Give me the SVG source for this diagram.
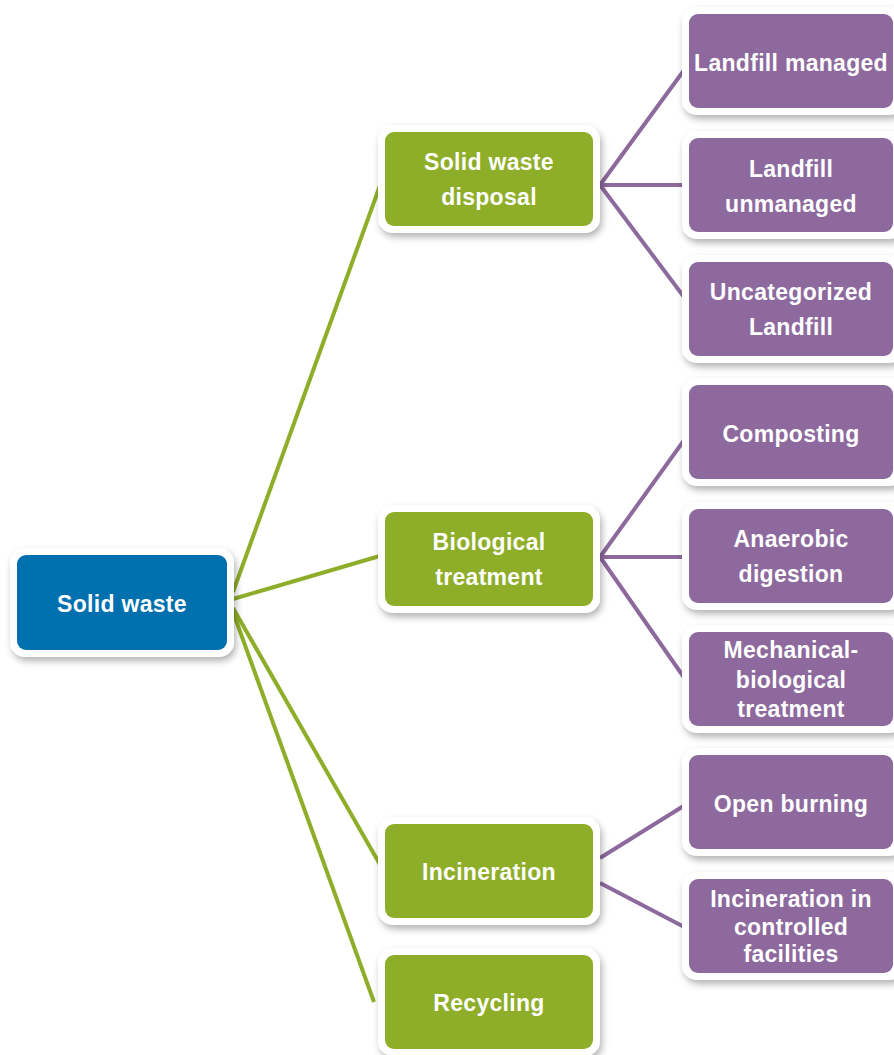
<svg xmlns="http://www.w3.org/2000/svg" width="894" height="1055" viewBox="0 0 894 1055">
<defs>
<filter id="sh" x="-20%" y="-20%" width="140%" height="150%">
<feDropShadow dx="2" dy="4" stdDeviation="3.5" flood-color="#000" flood-opacity="0.3"/>
</filter>
<style>
.frame{fill:#fff;filter:url(#sh)}
.blue{fill:#0070AE}
.green{fill:#8EAD28}
.purple{fill:#8D699E}
.t{font-family:"Liberation Sans",Arial,sans-serif;font-weight:bold;font-size:23px;fill:#fff;text-anchor:middle;letter-spacing:0.3px}
.cg{stroke:#8EAD28;stroke-width:4;fill:none}
.cp{stroke:#8D699E;stroke-width:4;fill:none}
</style>
</defs>
<rect width="894" height="1055" fill="#fff"/>
<g id="connectors">
<line class="cg" x1="233" y1="592" x2="382" y2="180"/>
<line class="cg" x1="233" y1="599" x2="390" y2="553"/>
<line class="cg" x1="233" y1="608" x2="382" y2="868"/>
<line class="cg" x1="233" y1="612" x2="374" y2="1002"/>
<line class="cp" x1="600" y1="185" x2="690" y2="62"/>
<line class="cp" x1="600" y1="185" x2="690" y2="185"/>
<line class="cp" x1="600" y1="185" x2="690" y2="305"/>
<line class="cp" x1="600" y1="557" x2="690" y2="432"/>
<line class="cp" x1="600" y1="557" x2="690" y2="557"/>
<line class="cp" x1="600" y1="557" x2="690" y2="686"/>
<line class="cp" x1="600" y1="858" x2="690" y2="802"/>
<line class="cp" x1="600" y1="883" x2="690" y2="930"/>
</g>
<g id="n-solid-waste">
<rect class="frame" x="10" y="548" width="224" height="109" rx="15"/>
<rect class="blue" x="17" y="555" width="210" height="95" rx="9"/>
<text class="t" x="122" y="612">Solid waste</text>
</g>
<g id="n-disposal">
<rect class="frame" x="378" y="125" width="222" height="108" rx="15"/>
<rect class="green" x="385" y="132" width="208" height="94" rx="9"/>
<text class="t" x="489" y="170">Solid waste</text>
<text class="t" x="489" y="205">disposal</text>
</g>
<g id="n-biological">
<rect class="frame" x="378" y="505" width="222" height="108" rx="15"/>
<rect class="green" x="385" y="512" width="208" height="94" rx="9"/>
<text class="t" x="489" y="550">Biological</text>
<text class="t" x="489" y="585">treatment</text>
</g>
<g id="n-incineration">
<rect class="frame" x="378" y="817" width="222" height="108" rx="15"/>
<rect class="green" x="385" y="824" width="208" height="94" rx="9"/>
<text class="t" x="489" y="880">Incineration</text>
</g>
<g id="n-recycling">
<rect class="frame" x="378" y="948" width="222" height="108" rx="15"/>
<rect class="green" x="385" y="955" width="208" height="94" rx="9"/>
<text class="t" x="489" y="1011">Recycling</text>
</g>
<g id="n-landfill-managed">
<rect class="frame" x="682" y="7" width="222" height="108" rx="15"/>
<rect class="purple" x="689" y="14" width="204" height="94" rx="9"/>
<text class="t" x="791" y="71">Landfill managed</text>
</g>
<g id="n-landfill-unmanaged">
<rect class="frame" x="682" y="131" width="222" height="108" rx="15"/>
<rect class="purple" x="689" y="138" width="204" height="94" rx="9"/>
<text class="t" x="791" y="177">Landfill</text>
<text class="t" x="791" y="212">unmanaged</text>
</g>
<g id="n-uncategorized">
<rect class="frame" x="682" y="255" width="222" height="108" rx="15"/>
<rect class="purple" x="689" y="262" width="204" height="94" rx="9"/>
<text class="t" x="791" y="300">Uncategorized</text>
<text class="t" x="791" y="335">Landfill</text>
</g>
<g id="n-composting">
<rect class="frame" x="682" y="378" width="222" height="108" rx="15"/>
<rect class="purple" x="689" y="385" width="204" height="94" rx="9"/>
<text class="t" x="791" y="442">Composting</text>
</g>
<g id="n-anaerobic">
<rect class="frame" x="682" y="502" width="222" height="108" rx="15"/>
<rect class="purple" x="689" y="509" width="204" height="94" rx="9"/>
<text class="t" x="791" y="547">Anaerobic</text>
<text class="t" x="791" y="582">digestion</text>
</g>
<g id="n-mbt">
<rect class="frame" x="682" y="625" width="222" height="108" rx="15"/>
<rect class="purple" x="689" y="632" width="204" height="94" rx="9"/>
<text class="t" x="791" y="658">Mechanical-</text>
<text class="t" x="791" y="688">biological</text>
<text class="t" x="791" y="717">treatment</text>
</g>
<g id="n-open-burning">
<rect class="frame" x="682" y="748" width="222" height="108" rx="15"/>
<rect class="purple" x="689" y="755" width="204" height="94" rx="9"/>
<text class="t" x="791" y="812">Open burning</text>
</g>
<g id="n-controlled">
<rect class="frame" x="682" y="872" width="222" height="108" rx="15"/>
<rect class="purple" x="689" y="879" width="204" height="94" rx="9"/>
<text class="t" x="791" y="907">Incineration in</text>
<text class="t" x="791" y="935">controlled</text>
<text class="t" x="791" y="962">facilities</text>
</g>
</svg>
